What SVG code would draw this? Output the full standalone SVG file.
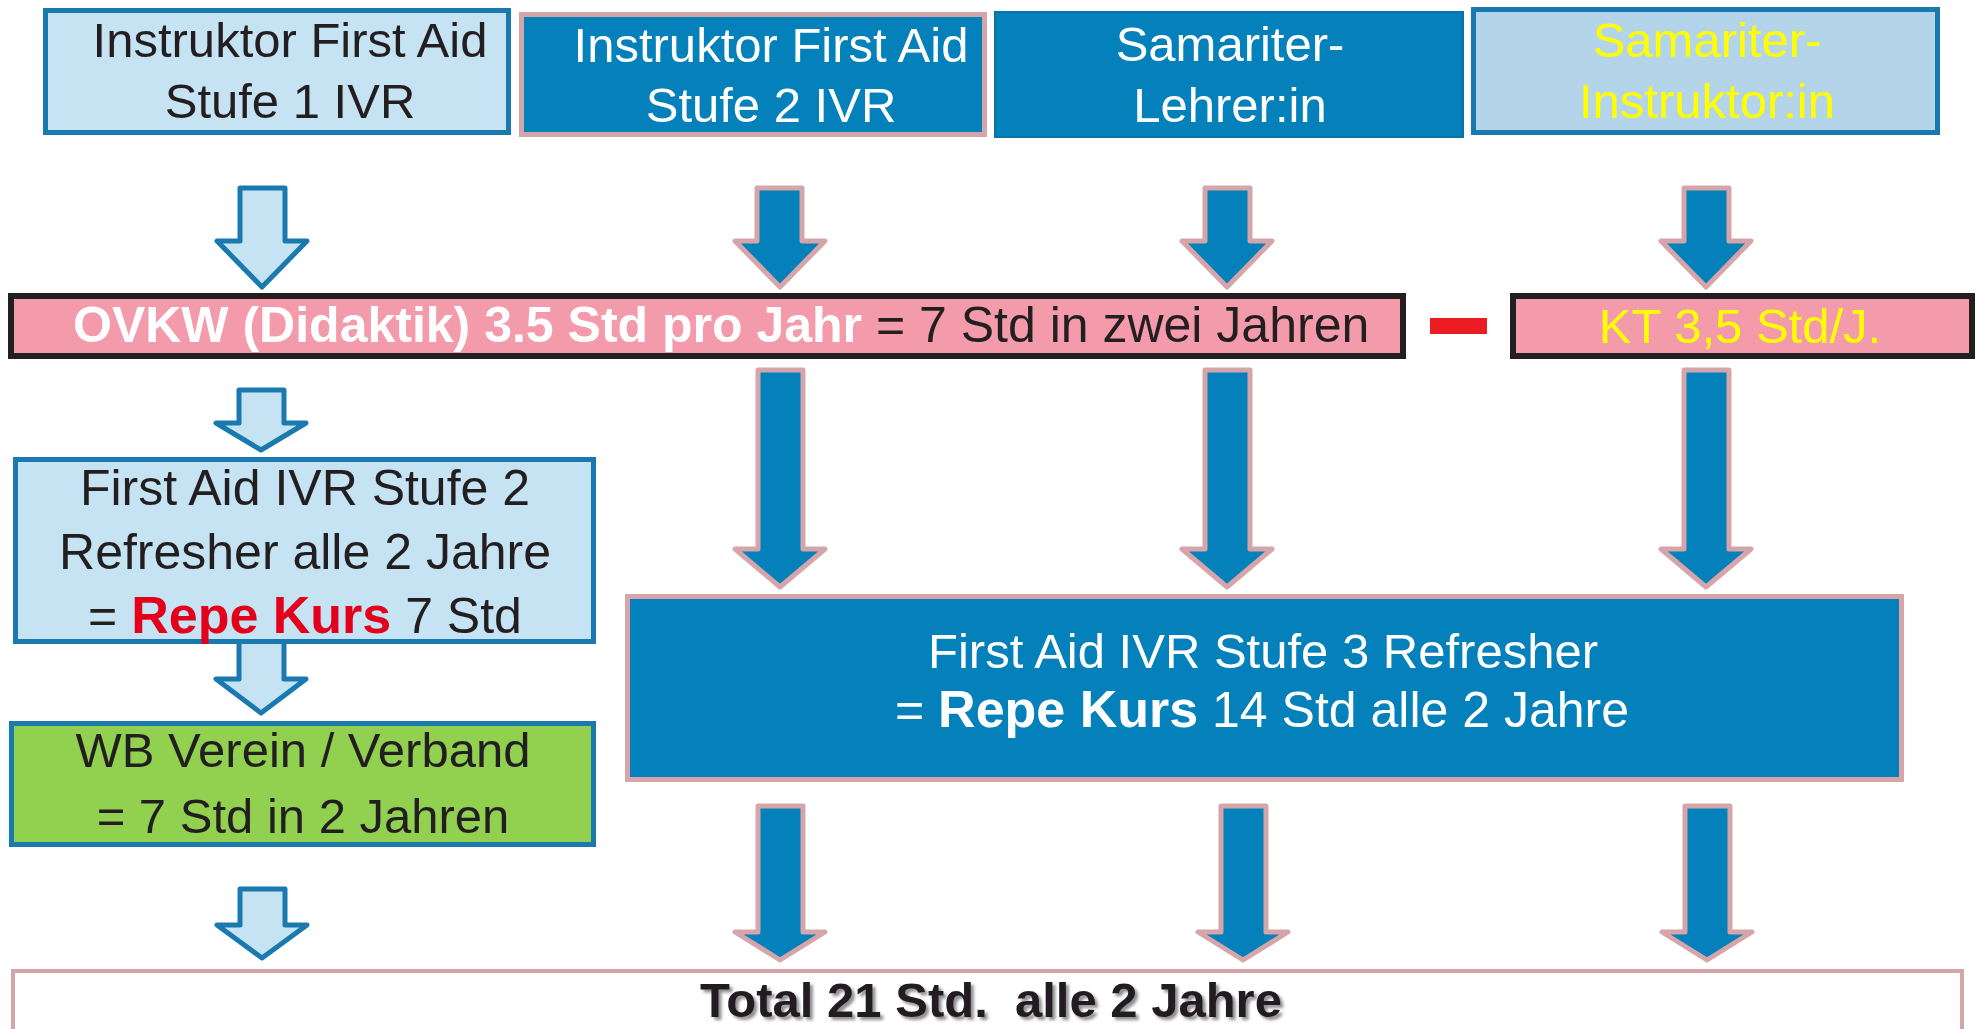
<svg xmlns="http://www.w3.org/2000/svg" width="1977" height="1029" viewBox="0 0 1977 1029">
<defs>
<style>
text{font-family:"Liberation Sans",Arial,sans-serif;font-size:49px;fill:#231F20}
.c{text-anchor:middle}
.w{fill:#FFFFFF}
.y{fill:#FFFF00}
.b{font-weight:bold}
.big{font-size:52px}
.r{fill:#E3001B}
.lb{fill:#C5E3F3;stroke:#1A7AB0;stroke-width:5}
.db{fill:#0480BA;stroke:#D6A5A9;stroke-width:5}
.pk{fill:#F49BAB;stroke:#231F20;stroke-width:6}
.al{fill:#C5E3F3;stroke:#1A7AB0;stroke-width:5;stroke-linejoin:round}
.ad{fill:#0480BA;stroke:#D6A5A9;stroke-width:5;stroke-linejoin:round}
</style>
<filter id="sh" x="-5%" y="-20%" width="110%" height="150%">
<feDropShadow dx="3" dy="3" stdDeviation="1.5" flood-color="#444" flood-opacity="0.6"/>
</filter>
</defs>
<rect width="1977" height="1029" fill="#FFFFFF"/>
<g id="connectors">
<path class="al" d="M240,188H285V241H307L262,287L217,241H240Z"/>
<path class="ad" d="M757,188H802V241H825L780,287L735,241H757Z"/>
<path class="ad" d="M1205,188H1250V241H1272L1227,287L1182,241H1205Z"/>
<path class="ad" d="M1684,188H1729V241H1751L1706,287L1661,241H1684Z"/>
<path class="al" d="M239,390H284V423H306L261,450L216,423H239Z"/>
<path class="ad" d="M758,370H803V549H825L780,587L735,549H758Z"/>
<path class="ad" d="M1205,370H1250V549H1272L1227,587L1182,549H1205Z"/>
<path class="ad" d="M1684,370H1729V549H1751L1706,587L1661,549H1684Z"/>
<path class="al" d="M239,640H284V679H306L261,713L216,679H239Z"/>
<path class="ad" d="M758,806H803V932H825L780,960L735,932H758Z"/>
<path class="ad" d="M1221,806H1266V932H1288L1243,960L1198,932H1221Z"/>
<path class="ad" d="M1685,806H1730V932H1752L1707,960L1662,932H1685Z"/>
<path class="al" d="M240,889H285V925H307L262,958L217,925H240Z"/>
<rect x="1430" y="318" width="57" height="16" fill="#EC1C24"/>
</g>
<g id="n-stufe1">
<rect class="lb" x="45.5" y="10.5" width="463" height="122"/>
<text class="c" x="290" y="57">Instruktor First Aid</text>
<text class="c" x="290" y="118">Stufe 1 IVR</text>
</g>
<g id="n-stufe2">
<rect class="db" x="521.5" y="14.5" width="463" height="120"/>
<text class="c w" x="771" y="62">Instruktor First Aid</text>
<text class="c w" x="771" y="122">Stufe 2 IVR</text>
</g>
<g id="n-lehrer">
<rect x="995" y="12" width="468" height="125" fill="#0480BA" stroke="#0B72A8" stroke-width="2"/>
<text class="c w" x="1230" y="61">Samariter-</text>
<text class="c w" x="1230" y="122">Lehrer:in</text>
</g>
<g id="n-instruktor">
<rect x="1473.5" y="9.5" width="464" height="123" fill="#B4D4EA" stroke="#1A7AB0" stroke-width="5"/>
<text class="c y" x="1707" y="57">Samariter-</text>
<text class="c y" x="1707" y="118">Instruktor:in</text>
</g>
<g id="n-ovkw">
<rect class="pk" x="11" y="296" width="1392" height="60"/>
<text x="73" y="342" style="font-size:50px"><tspan class="b w">OVKW (Didaktik) 3.5 Std pro Jahr</tspan> = 7 Std in zwei Jahren</text>
</g>
<g id="n-kt">
<rect class="pk" x="1513" y="296" width="459" height="60"/>
<text class="c y" x="1740" y="343">KT 3,5 Std/J.</text>
</g>
<g id="n-refresh2">
<rect class="lb" x="15.5" y="459.5" width="578" height="182"/>
<text class="c" x="305" y="505" style="font-size:50px">First Aid IVR Stufe 2</text>
<text class="c" x="305" y="569" style="font-size:50px">Refresher alle 2 Jahre</text>
<text class="c" x="305" y="633" style="font-size:50px">= <tspan class="b r big">Repe Kurs</tspan> 7 Std</text>
</g>
<g id="n-wb">
<rect x="11.5" y="723.5" width="582" height="121" fill="#92D050" stroke="#1A7AB0" stroke-width="5"/>
<text class="c" x="303" y="767">WB Verein / Verband</text>
<text class="c" x="303" y="833">= 7 Std in 2 Jahren</text>
</g>
<g id="n-refresh3">
<rect class="db" x="627.5" y="596.5" width="1274" height="183"/>
<text class="c w" x="1263" y="668">First Aid IVR Stufe 3 Refresher</text>
<text class="c w" x="1262" y="727" style="font-size:50px">= <tspan class="b big">Repe Kurs</tspan> 14 Std alle 2 Jahre</text>
</g>
<g id="n-total">
<rect x="13" y="971" width="1949" height="80" fill="#FFFFFF" stroke="#D6A5A9" stroke-width="4"/>
<text class="c b" x="991" y="1017" xml:space="preserve" filter="url(#sh)">Total 21 Std.  alle 2 Jahre</text>
</g>
</svg>
